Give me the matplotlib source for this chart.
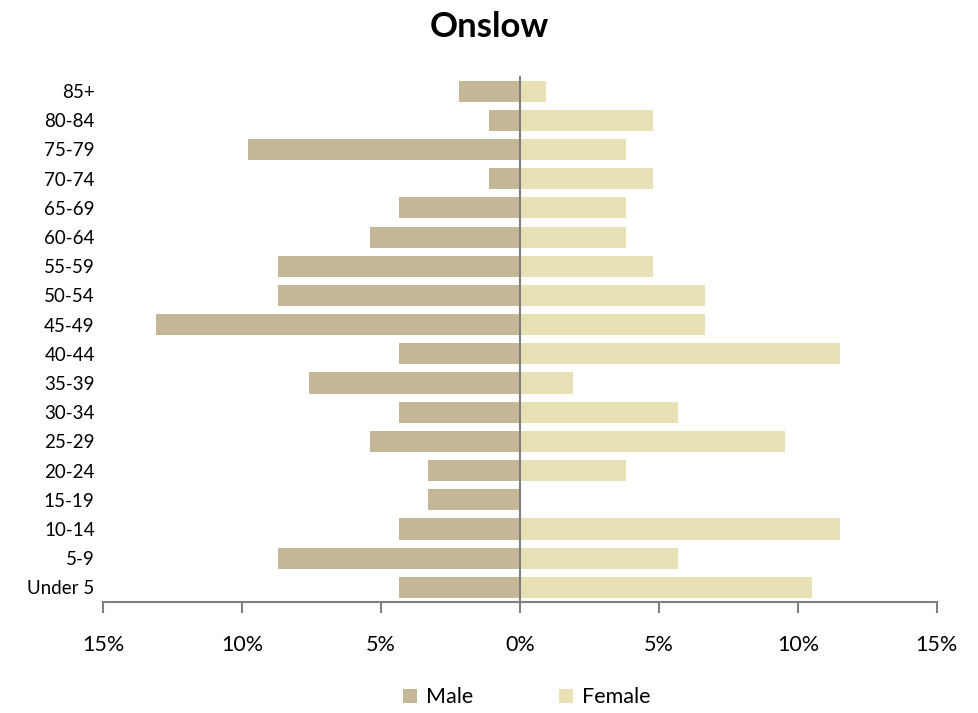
import numpy as np
import matplotlib.pyplot as plt

plt.rcParams['font.family'] = ['Lato', 'DejaVu Sans']

ages = ['Under 5', '5-9', '10-14', '15-19', '20-24', '25-29', '30-34', '35-39',
        '40-44', '45-49', '50-54', '55-59', '60-64', '65-69', '70-74', '75-79',
        '80-84', '85+']
male = [4.35, 8.7, 4.35, 3.3, 3.3, 5.4, 4.35, 7.6, 4.35, 13.1, 8.7, 8.7,
        5.4, 4.35, 1.1, 9.8, 1.1, 2.2]
female = [10.5, 5.7, 11.5, 0.0, 3.8, 9.55, 5.7, 1.9, 11.5, 6.65, 6.65, 4.8,
          3.8, 3.8, 4.8, 3.8, 4.8, 0.95]
xticks = [-15, -10, -5, 0, 5, 10, 15]

male_color = '#C4B796'
female_color = '#E8E1B6'

fig = plt.figure(figsize=(9.79, 7.13), dpi=100)
ax = fig.add_axes([0.1052, 0.1557, 0.8518, 0.7371])

y = np.arange(len(ages))
ax.barh(y, -np.array(male), height=0.72, color=male_color, label='Male')
ax.barh(y, female, height=0.72, color=female_color, label='Female')
ax.axvline(0, color='#808080', lw=1.5)

ax.set_xlim(-15, 15)
ax.set_ylim(-0.5, len(ages) - 0.5)
ax.set_yticks(y)
ax.set_yticklabels(ages, fontsize=13.5)
ax.set_xticks(xticks)
ax.set_xticklabels(['%d%%' % abs(v) for v in xticks], fontsize=15.5)
ax.tick_params(axis='y', length=0, pad=6)
ax.tick_params(axis='x', direction='out', length=8, width=1.5, color='#808080', pad=16)

for s in ['top', 'right', 'left']:
    ax.spines[s].set_visible(False)
ax.spines['bottom'].set_color('#808080')
ax.spines['bottom'].set_linewidth(1.5)

fig.text(0.5, 0.962, 'Onslow', ha='center', va='center', fontsize=25, fontweight='bold')

fig.legend(loc='center', bbox_to_anchor=(0.538, 0.022), ncol=2, frameon=False,
           fontsize=15.5, handlelength=0.65, handleheight=0.65, columnspacing=4.0, handletextpad=0.4)

fig.savefig('out.png', dpi=100)
